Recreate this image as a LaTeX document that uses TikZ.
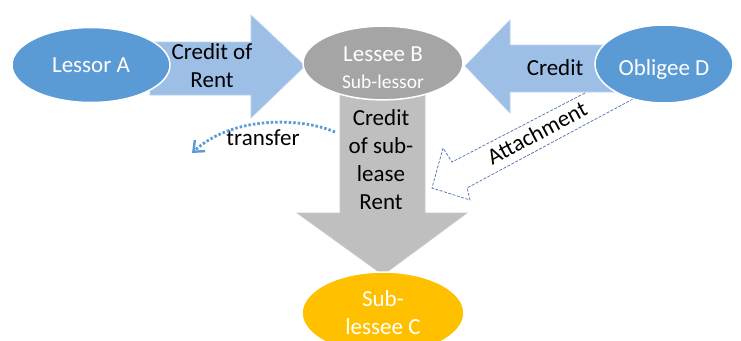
\documentclass[tikz,border=0pt]{standalone}
\usepackage{fontspec}
\setmainfont{Carlito}
\usetikzlibrary{shapes.geometric,arrows.meta}
\definecolor{blueE}{HTML}{5B9BD5}
\definecolor{blueArr}{HTML}{9DBFE6}
\definecolor{blueArrEdge}{HTML}{B9D2EE}
\definecolor{grayE}{HTML}{A5A5A5}
\definecolor{grayArr}{HTML}{BFBFBF}
\definecolor{yellowE}{HTML}{FFC000}
\definecolor{dashBlue}{HTML}{4A6FB5}
\begin{document}
\begin{tikzpicture}[x=1pt,y=-1pt,
  bigtext/.style={font=\fontsize{23}{28}\selectfont},
  oval/.style={ellipse,draw=white,line width=1.5pt,inner sep=0pt,text=white,align=center,bigtext},
  blockblue/.style={fill=blueArr,draw=blueArrEdge,line width=0.6pt},
  blockgray/.style={fill=grayArr,draw=grayArr!85!white,line width=0.6pt},
  lbl/.style={bigtext,align=center,text=black,inner sep=0pt}]
\useasboundingbox (0,0) rectangle (741,340);
\fill[white] (0,0) rectangle (741,340);

% block arrows (drawn first, behind the ellipses)
\path[blockblue] (150,42) -- (251,42) -- (251,15) -- (305,66) -- (251,118) -- (251,95) -- (150,95) -- cycle;
\path[blockblue] (620,45) -- (510,45) -- (510,20) -- (465,66) -- (510,113) -- (510,92) -- (620,92) -- cycle;
\path[blockgray] (340,90) -- (425,90) -- (425,213) -- (467,213) -- (383,275) -- (297,213) -- (340,213) -- cycle;

% attachment hollow dashed arrow
\draw[dashBlue,line width=0.7pt,dash pattern=on 3pt off 1.5pt,line join=miter]
  (585,93) -- (452,162) -- (443,148) -- (432,188) -- (470,200) -- (467,188) -- (633,99);

% ellipses
\node[oval,fill=blueE,minimum width=158pt,minimum height=75pt] (A) at (91,65) {Lessor A};
\node[oval,fill=grayE,minimum width=160pt,minimum height=71pt] (B) at (383,63)
  {\rule{0pt}{25pt}Lessee B\\[-1pt]{\fontsize{19.5}{28}\selectfont Sub-lessor}};
\node[oval,fill=blueE,minimum width=138pt,minimum height=78pt] (D) at (664,64) {\rule{0pt}{27pt}Obligee D};
\node[oval,fill=yellowE,minimum width=162pt,minimum height=82pt] (C) at (383,313) {Sub-\\lessee C};

% labels
\node[lbl] (lcr) at (212,66) {Credit of\\Rent};
\node[lbl] (lc) at (555,68) {Credit};
\node[lbl] (lsub) at (381,160) {Credit\\of sub-\\lease\\Rent};
\node[lbl,anchor=base] (ltr) at (263,145) {transfer};
\node[lbl,rotate=28] (latt) at (537,133) {Attachment};

% transfer dotted arrow
\coordinate (ts) at (335,132);
\coordinate (te) at (192,153);
\draw[blueE,line width=2.8pt,dash pattern=on 2.5pt off 2pt,
  -{Straight Barb[length=9pt,width=15pt,line width=2.4pt]}]
  (ts) .. controls (300,117) and (232,116) .. (te);
\end{tikzpicture}
\end{document}
